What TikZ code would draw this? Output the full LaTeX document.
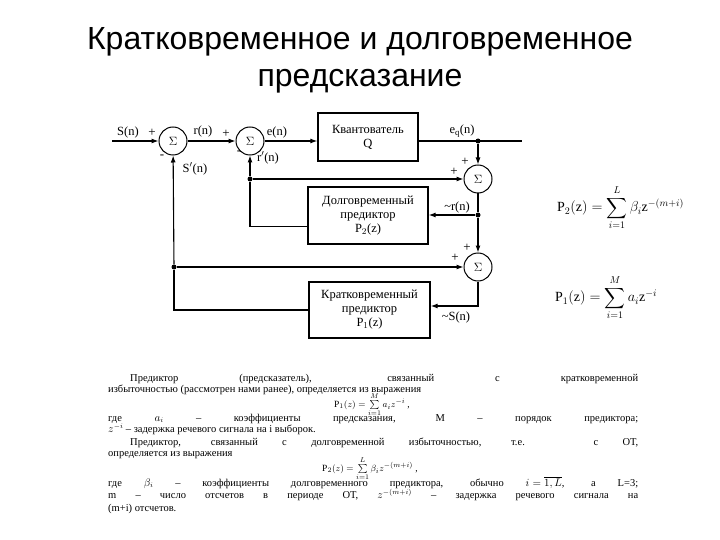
\documentclass[tikz,border=0pt]{standalone}
\usepackage{amsmath}
\usepackage{exscale}
\usepackage{fontspec}
\setmainfont{Liberation Serif}
\newfontfamily\titlefont{Liberation Sans}
\usepackage{tikz}
\usetikzlibrary{positioning, arrows.meta, calc}

\begin{document}
\begin{tikzpicture}[x=1pt, y=-1pt,
    sumnode/.style={draw, circle, line width=1pt, minimum size=28pt, inner sep=0pt, font=\fontsize{12}{12}\selectfont},
    blockbox/.style={draw, line width=1.3pt, align=center, font=\fontsize{12.5}{14}\selectfont},
    wire/.style={line width=1.1pt},
    sig/.style={wire, -{Latex[length=7pt, width=5pt]}},
    junction/.style={circle, fill, inner sep=0pt, minimum size=5pt},
    lbl/.style={font=\fontsize{12.5}{13}\selectfont, inner sep=0pt},
    sgn/.style={font=\fontsize{13}{13}\selectfont, inner sep=0pt},
    txt/.style={anchor=base west, text width=530pt, align=justify, inner sep=0pt},
    eqn/.style={font=\fontsize{9.5}{10}\selectfont, inner sep=0pt},
    bigeq/.style={font=\fontsize{14}{14}\selectfont, anchor=west, inner sep=0pt}]

  \useasboundingbox (0,0) rectangle (720,540);

  \node[font=\titlefont\fontsize{32}{37}\selectfont, align=center] (title) at (360,60)
    {Кратковременное и долговременное\\предсказание};

  \node[sumnode] (s1) at (173,141) {$\Sigma$};
  \node[sumnode] (s2) at (250,141) {$\Sigma$};
  \node[blockbox, minimum width=100pt, minimum height=48pt] (quant) at (368,137) {Квантователь\\Q};
  \node[sumnode] (s3) at (478,179) {$\Sigma$};
  \node[sumnode] (s4) at (478,267) {$\Sigma$};
  \node[blockbox, minimum width=120pt, minimum height=57pt] (ltp) at (368,215.5)
    {Долговременный\\предиктор\\P$_2$(z)};
  \node[blockbox, minimum width=121pt, minimum height=56pt] (stp) at (369.5,310)
    {Кратковременный\\предиктор\\P$_1$(z)};

  \node[junction] (jq) at (478,141) {};
  \node[junction] (jr) at (250,179) {};
  \node[junction] (jp) at (478,215) {};
  \node[junction] (js) at (174,267) {};
  \coordinate (in) at (112,141);
  \coordinate (out) at (522,141);

  \draw[sig] (in) -- (s1);
  \draw[sig] (s1) -- (s2);
  \draw[sig] (s2) -- (s2 -| quant.west);
  \draw[wire] (quant.east |- jq) -- (jq.center) -- (out);
  \draw[sig] (jq) -- (s3);
  \draw[sig] (jr) -- (s3);
  \draw[sig] (jr) -- (s2);
  \draw[wire] ([yshift=-11pt]ltp.west) -| (jr);
  \draw[wire] (s3) -- (jp);
  \draw[sig] (jp) -- (jp -| ltp.east);
  \draw[sig] (jp) -- (s4);
  \draw[sig] (js) -- (s4);
  \draw[sig] (s4) |- ([yshift=4pt]stp.east);
  \draw[wire] (stp.west) -| (js);
  \draw[sig] (js) -- (s1);

  \node[lbl] (lsn) at (128,132) {S(n)};
  \node[lbl] (lrn) at (203,131) {r(n)};
  \node[lbl] (lsp) at (195,169) {S$'$(n)};
  \node[lbl] (len) at (277,132) {e(n)};
  \node[lbl] (lrp) at (268,158) {r$'$(n)};
  \node[lbl] (leq) at (462,131) {e$_{\mathrm q}$(n)};
  \node[lbl] (lrt) at (457,207) {\textasciitilde r(n)};
  \node[lbl] (lst) at (456,317) {\textasciitilde S(n)};

  \node[sgn] (p1) at (152,133) {+};
  \node[sgn] (m1) at (162,157) {-};
  \node[sgn] (p2) at (226,134) {+};
  \node[sgn] (m2) at (239,153) {-};
  \node[sgn] (p3a) at (465,162) {+};
  \node[sgn] (p3b) at (454,172) {+};
  \node[sgn] (p4a) at (467,248) {+};
  \node[sgn] (p4b) at (455,258) {+};

  \node[bigeq] (fp2) at (557,208)
    {$\mathrm{P}_2(\mathrm{z}) = \displaystyle\sum_{i=1}^{L} \beta_i \mathrm{z}^{-(m+i)}$};
  \node[bigeq] (fp1) at (555,298)
    {$\mathrm{P}_1(\mathrm{z}) = \displaystyle\sum_{i=1}^{M} a_i \mathrm{z}^{-i}$};

  \node[txt, font=\fontsize{10.5}{11}\selectfont] (par1) at (108,381)
    {\hspace*{22pt}Предиктор (предсказатель), связанный с кратковременной\linebreak
     избыточностью (рассмотрен нами ранее), определяется из выражения};
  \node[eqn] (eq1) at (372,405) {$\mathrm{P}_1(z) = \sum\limits_{i=1}^{M} a_i z^{-i}$ ,};
  \node[txt, font=\fontsize{10.5}{10.5}\selectfont] (par2) at (108,421)
    {где $a_i$ -- коэффициенты предсказания, M -- порядок предиктора;\linebreak
     $z^{-i}$ -- задержка речевого сигнала на i выборок.};
  \node[txt, font=\fontsize{10.5}{11}\selectfont] (par3) at (108,445)
    {\hspace*{22pt}Предиктор, связанный с долговременной избыточностью, т.е. с ОТ,\linebreak
     определяется из выражения};
  \node[eqn] (eq2) at (370,469) {$\mathrm{P}_2(z) = \sum\limits_{i=1}^{L} \beta_i z^{-(m+i)}$ ,};
  \node[txt, font=\fontsize{10.5}{12.5}\selectfont] (par4) at (108,486)
    {где $\beta_i$ -- коэффициенты долговременного предиктора, обычно $\thickmuskip=5mu i=\overline{1,L}$, а L=3;\linebreak
     m -- число отсчетов в периоде ОТ, $z^{-(m+i)}$ -- задержка речевого сигнала на\linebreak
     (m+i) отсчетов.};
\end{tikzpicture}
\end{document}
